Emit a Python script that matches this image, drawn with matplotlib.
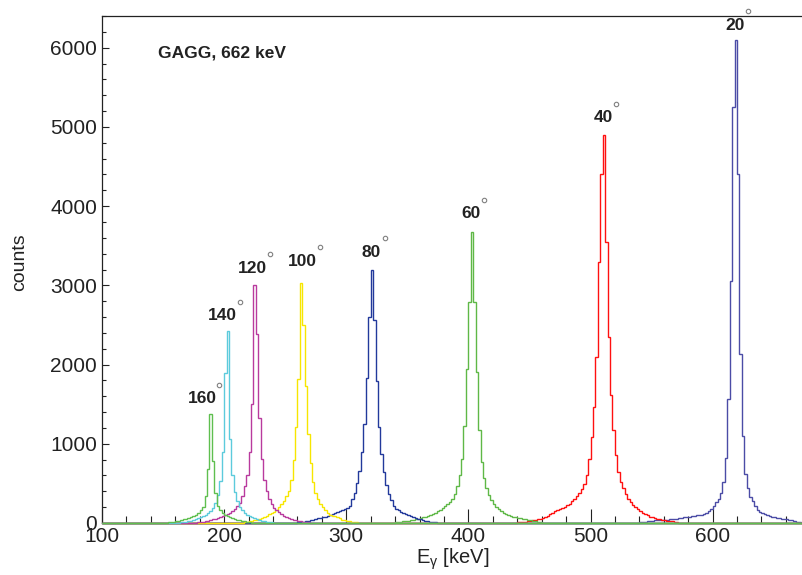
import numpy as np
import matplotlib
matplotlib.use('Agg')
import matplotlib.pyplot as plt
from matplotlib.ticker import MultipleLocator
from matplotlib.transforms import offset_copy

plt.rcParams['font.family'] = ['Liberation Sans', 'DejaVu Sans']

# energy binning of the spectra (keV)
e_min, e_max, bin_width = 100, 674, 2

# counts per 2 keV bin, listed upward from the given lower edge
start_20 = 540
counts_20 = [10, 14, 18, 22, 26, 30, 33, 36, 38, 40, 42, 44, 45, 47, 50, 55, 60, 65, 70, 75,
             80, 85, 90, 95, 100, 105, 115, 130, 150, 175, 210, 260, 300, 380, 520, 820, 1560,
             3050, 5250, 6100, 4400, 2130, 1100, 620, 440, 330, 275, 220, 170, 145, 125, 110,
             100, 90, 80, 72, 65, 60, 55, 50, 45, 40, 35, 25, 15, 8, 4]

start_40 = 436
counts_40 = [3, 5, 7, 10, 14, 18, 22, 27, 32, 38, 45, 52, 62, 75, 90, 110, 130, 150, 164, 178,
             190, 205, 225, 245, 275, 305, 343, 380, 430, 490, 610, 810, 1080, 1470, 2100, 3300,
             4400, 4900, 3550, 2350, 1620, 1180, 860, 640, 515, 440, 367, 305, 265, 230, 200,
             172, 147, 125, 108, 95, 82, 72, 62, 55, 48, 42, 36, 30, 25, 20, 15, 10, 6, 3]

start_60 = 336
counts_60 = [2, 4, 7, 11, 15, 20, 25, 30, 36, 42, 48, 55, 62, 73, 82, 92, 103, 114, 128, 150,
             170, 190, 213, 242, 265, 305, 370, 465, 600, 810, 1220, 1950, 2790, 3670, 2790,
             1910, 1175, 770, 570, 440, 350, 286, 242, 205, 176, 150, 132, 117, 103, 92, 81, 73,
             66, 59, 52, 45, 38, 32, 26, 20, 15, 10, 6, 3]

start_80 = 256
counts_80 = [2, 4, 7, 11, 16, 22, 28, 35, 42, 50, 58, 62, 72, 82, 92, 102, 112, 122, 136, 148,
             160, 175, 190, 220, 300, 385, 500, 660, 890, 1250, 1830, 2600, 3200, 2560, 1790,
             1215, 865, 640, 480, 370, 290, 210, 180, 160, 144, 128, 115, 102, 90, 80, 64, 54,
             45, 37, 30, 24, 18, 13, 9, 5, 3]

start_100 = 212
counts_100 = [3, 6, 10, 14, 19, 25, 32, 40, 50, 61, 76, 91, 110, 128, 143, 167, 197, 237, 275,
              335, 410, 545, 790, 1215, 1820, 3035, 2500, 1730, 1120, 760, 515, 380, 300, 240,
              200, 167, 128, 106, 90, 85, 80, 60, 42, 34, 27, 21, 16, 12, 8, 5, 3]

start_120 = 174
counts_120 = [3, 6, 9, 13, 18, 24, 30, 37, 45, 54, 64, 75, 87, 100, 114, 130, 150, 175, 210,
              255, 345, 465, 600, 900, 1500, 3010, 2380, 1320, 810, 540, 405, 300, 240, 195,
              162, 135, 108, 90, 75, 62, 52, 43, 35, 28, 22, 17, 13, 9, 6, 3]

start_140 = 160
counts_140 = [3, 5, 8, 12, 17, 23, 30, 38, 47, 58, 70, 85, 102, 126, 157, 195, 255, 350, 530,
              895, 1890, 2420, 1065, 605, 390, 280, 205, 165, 130, 106, 87, 72, 58, 47, 37, 29,
              22, 16, 11, 7, 4]

start_160 = 150
counts_160 = [3, 5, 8, 12, 17, 23, 30, 38, 46, 55, 63, 74, 86, 103, 123, 158, 205, 335, 680,
              1370, 780, 385, 220, 165, 127, 104, 86, 71, 59, 49, 40, 32, 25, 19, 14, 10, 6, 3]

angles = ['20', '40', '60', '80', '100', '120', '140', '160']
starts = [start_20, start_40, start_60, start_80, start_100, start_120, start_140, start_160]
spectra = [counts_20, counts_40, counts_60, counts_80, counts_100, counts_120, counts_140,
           counts_160]
colors = ['#4b4ca6', '#ff1010', '#5fb847', '#22399b', '#f7e600', '#b93a9e', '#5ccbdc', '#5fbf4f']

# where the angle labels sit (keV, counts)
label_x = [618.0, 510.2, 402.0, 320.7, 264.1, 223.2, 198.9, 181.8]
label_y = [6284, 5116, 3902, 3413, 3299, 3216, 2617, 1566]

edges = np.arange(e_min, e_max + bin_width, bin_width)


def full_spectrum(start, counts):
    h = np.zeros(len(edges) - 1)
    i = (start - e_min) // bin_width
    n = min(len(counts), len(h) - i)
    h[i:i + n] = counts[:n]
    return h


fig = plt.figure(figsize=(8.03, 5.75), dpi=100)
ax = fig.add_axes([102 / 803, 52 / 575, 701 / 803, 507 / 575])

for start, counts, c in zip(starts, spectra, colors):
    ax.stairs(full_spectrum(start, counts), edges, color=c, lw=1.0, zorder=3, clip_on=False)

ax.set_xlim(e_min, e_max)
ax.set_ylim(0, 6400)

ax.xaxis.set_major_locator(MultipleLocator(100))
ax.xaxis.set_minor_locator(MultipleLocator(20))
ax.yaxis.set_major_locator(MultipleLocator(1000))
ax.yaxis.set_minor_locator(MultipleLocator(200))

ax.tick_params(which='both', direction='in', top=False, right=False, width=0.8,
               colors='#222222', labelsize=15)
ax.tick_params(axis='x', which='major', length=10, pad=3)
ax.tick_params(axis='x', which='minor', length=4.8)
ax.tick_params(axis='y', which='major', length=5, pad=3.5)
ax.tick_params(axis='y', which='minor', length=2.7)

ax.spines['right'].set_visible(False)
for s in ['left', 'top', 'bottom']:
    ax.spines[s].set_linewidth(0.9)
    ax.spines[s].set_color('#222222')

ax.set_xlabel(r'E$_\mathregular{γ}$ [keV]', fontsize=14.5, color='#222222', labelpad=0)
ax.set_ylabel('counts', fontsize=14, color='#222222')
ax.yaxis.set_label_coords(-0.106, 0.515)

ax.text(0.0799, 0.9276, 'GAGG, 662 keV', transform=ax.transAxes, fontsize=12.5,
        fontweight='bold', color='#222222', ha='left', va='center')

for lab, lx, ly in zip(angles, label_x, label_y):
    ax.text(lx, ly, lab, fontsize=12.5, fontweight='bold', color='#222222',
            ha='center', va='center', zorder=4)
    tr = offset_copy(ax.transData, fig=fig, x=3.2 * len(lab) + 3.0, y=10.2, units='points')
    ax.plot([lx], [ly], 'o', ms=3.2, mfc='white', mec='#808080', mew=0.8,
            transform=tr, clip_on=False, zorder=4)

fig.savefig('out.png', dpi=100)
